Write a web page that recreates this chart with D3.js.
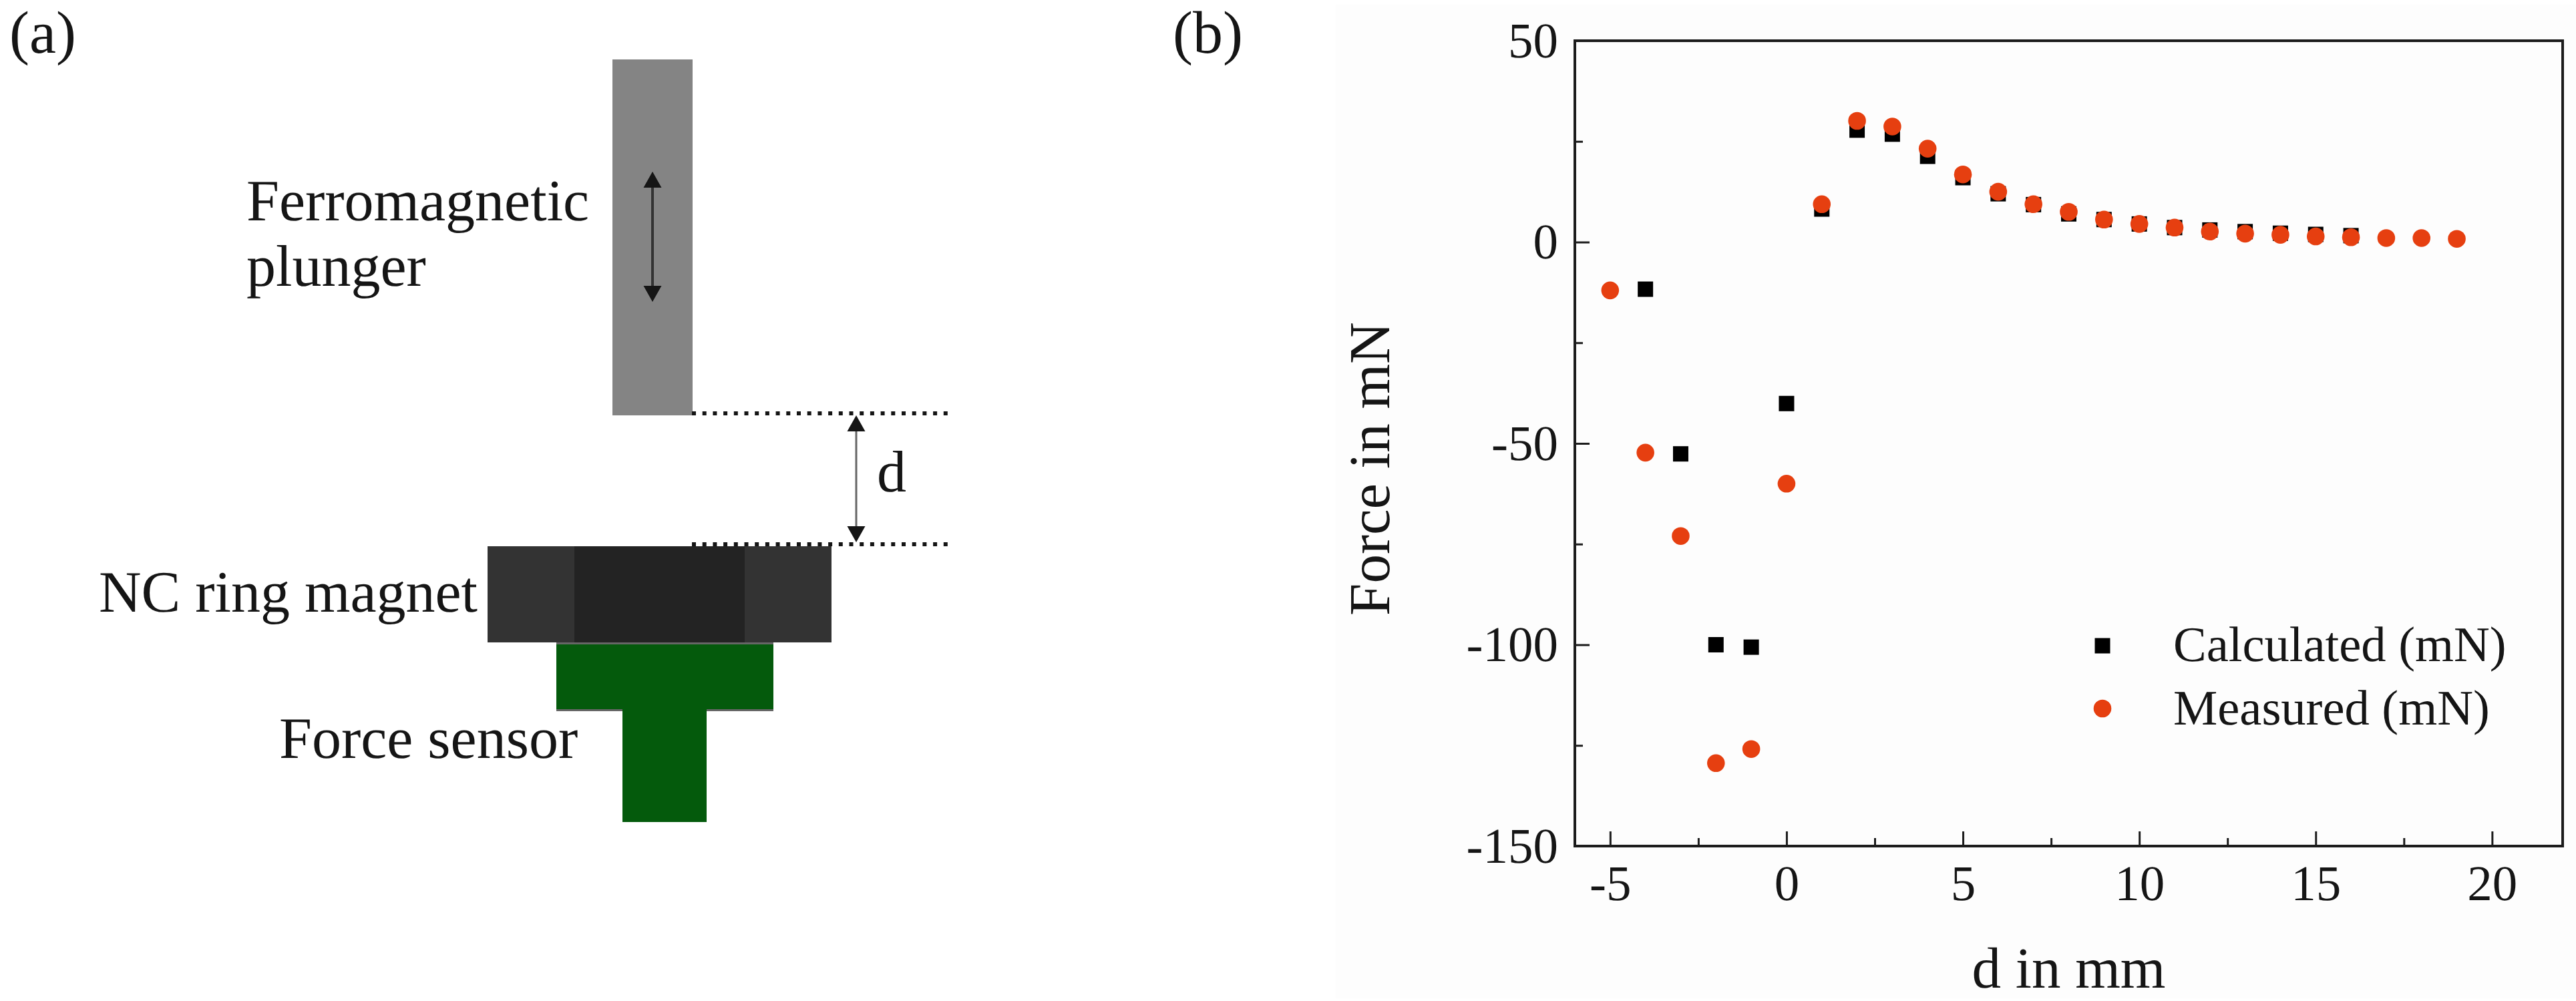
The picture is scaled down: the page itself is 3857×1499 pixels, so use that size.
<!DOCTYPE html>
<html>
<head>
<meta charset="utf-8">
<style>
  html, body { margin: 0; padding: 0; background: #fff; }
  svg { display: block; }
  text { font-family: "Liberation Serif", serif; fill: #151515; text-rendering: geometricPrecision; }
</style>
</head>
<body>
  <script src="https://d3js.org/d3.v7.min.js"></script>
  <div id="chart"></div>
  <script>
    // values (mN)
    const calcD = [-4,-3,-2,-1,0,1,2,3,4,5,6,7,8,9,10,11,12,13,14,15,16];
    const calcF = [-11.7,-52.6,-100,-100.6,-40.1,8.2,27.8,26.8,21.3,16,12,9.3,7,5.6,4.5,3.6,3,2.6,2.2,1.9,1.6];
    const measD = [-5,-4,-3,-2,-1,0,1,2,3,4,5,6,7,8,9,10,11,12,13,14,15,16,17,18,19];
    const measF = [-12,-52.3,-73,-129.4,-125.9,-60,9.4,30.1,28.7,23.2,16.8,12.5,9.4,7.5,5.6,4.5,3.6,2.6,2.1,1.8,1.4,1.2,1,1,0.8];
    const xMajor = [-5,0,5,10,15,20];
    const xMinor = [-2.5,2.5,7.5,12.5,17.5];
    const yMajor = [-150,-100,-50,0,50];
    const yMinor = [-125,-75,-25,25];
    const seriesNames = ["Calculated (mN)", "Measured (mN)"];

    const width = 3857, height = 1499;
    const red = "#e63f10";

    const svg = d3.select("#chart").append("svg")
      .attr("width", width)
      .attr("height", height);

    //faint off-white backdrop of panel b
    svg.append("rect").attr("x", 2000).attr("y", 7).attr("width", 1857).attr("height", 1488).style("fill", "#fdfdfd");

    //----- panel a: the schematic -----
    function label(txt, x, y, size) {
      return svg.append("text").attr("x", x).attr("y", y).style("font-size", size + "px").text(txt);
    }
    function box(x, y, w, h, fill) {
      svg.append("rect").attr("x", x).attr("y", y).attr("width", w).attr("height", h).style("fill", fill);
    }
    function doubleArrow(x, y1, y2, color, lineW) {
      svg.append("line").attr("x1", x).attr("x2", x).attr("y1", y1 + 20).attr("y2", y2 - 20)
        .style("stroke", color).style("stroke-width", lineW);
      const head = (tip, base) => `${x},${tip} ${x - 13.5},${base} ${x + 13.5},${base}`;
      svg.append("polygon").attr("points", head(y1, y1 + 24)).style("fill", "#151515");
      svg.append("polygon").attr("points", head(y2, y2 - 24)).style("fill", "#151515");
    }

    label("(a)", 14, 79, 90);
    label("(b)", 1756, 79, 90);

    box(917, 89, 120, 533, "#848484");
    doubleArrow(977, 257, 452, "#333", 4);

    //grey edges of the sensor sit under the green
    box(833, 961, 325, 104, "#666");
    box(833, 965, 325, 97, "#045a0c");
    box(932, 1062, 126, 169, "#045a0c");
    box(730, 818, 515, 144, "#333333");
    box(860, 818, 255, 144, "#232323");

    [619, 815].forEach(y => {
      svg.append("line").attr("x1", 1036).attr("x2", 1420).attr("y1", y).attr("y2", y)
        .style("stroke", "#151515").style("stroke-width", 6).style("stroke-dasharray", "6 9.7");
    });
    doubleArrow(1282, 622, 812, "#666", 3);

    label("Ferromagnetic", 369, 330, 88);
    label("plunger", 369, 428, 88);
    label("NC ring magnet", 148, 916, 88);
    label("Force sensor", 418, 1135, 88);
    label("d", 1313, 736, 88);

    //----- panel b: the scatter -----
    const plotL = 2358, plotR = 3837, plotT = 61, plotB = 1267;
    const xScale = d3.scaleLinear().domain([-6, 22]).range([plotL, plotR]);
    const yScale = d3.scaleLinear().domain([-150, 50]).range([plotB, plotT]);

    //frame
    svg.append("rect").attr("x", plotL).attr("y", plotT)
      .attr("width", plotR - plotL).attr("height", plotB - plotT)
      .style("fill", "none").style("stroke", "#1c1c1c").style("stroke-width", 4);

    //ticks point inwards, labels sit outside
    function styleAxis(g) {
      g.select(".domain").remove();
      g.selectAll("line").style("stroke", "#1c1c1c").style("stroke-width", 3);
      g.selectAll("text").style("font-size", "75px").style("font-family", '"Liberation Serif", serif').style("fill", "#151515");
    }
    svg.append("g").attr("transform", `translate(0,${plotB})`)
      .call(d3.axisBottom(xScale).tickValues(xMajor).tickSizeInner(-22).tickSizeOuter(0).tickPadding(28).tickFormat(d => String(d)))
      .call(styleAxis);
    svg.append("g").attr("transform", `translate(0,${plotB})`)
      .call(d3.axisBottom(xScale).tickValues(xMinor).tickSizeInner(-12).tickSizeOuter(0).tickFormat(""))
      .call(styleAxis);
    svg.append("g").attr("transform", `translate(${plotL},0)`)
      .call(d3.axisLeft(yScale).tickValues(yMajor).tickSizeInner(-22).tickSizeOuter(0).tickPadding(25).tickFormat(d => String(d)))
      .call(styleAxis);
    svg.append("g").attr("transform", `translate(${plotL},0)`)
      .call(d3.axisLeft(yScale).tickValues(yMinor).tickSizeInner(-12).tickSizeOuter(0).tickFormat(""))
      .call(styleAxis);

    //axis titles
    svg.append("text").attr("x", (plotL + plotR) / 2).attr("y", 1479)
      .attr("text-anchor", "middle").style("font-size", "87px").text("d in mm");
    svg.append("text").attr("transform", "translate(2080,702) rotate(-90)")
      .attr("text-anchor", "middle").style("font-size", "87px").text("Force in mN");

    //points
    const sq = 23, rad = 13.3;
    calcD.forEach((d, i) => {
      svg.append("rect")
        .attr("x", xScale(d) - sq / 2)
        .attr("y", yScale(calcF[i]) - sq / 2)
        .attr("width", sq)
        .attr("height", sq)
        .style("fill", "#000");
    });
    measD.forEach((d, i) => {
      svg.append("circle")
        .attr("cx", xScale(d))
        .attr("cy", yScale(measF[i]))
        .attr("r", rad)
        .style("fill", red);
    });

    //legend
    svg.append("rect").attr("x", 3148 - sq / 2).attr("y", 967 - sq / 2).attr("width", sq).attr("height", sq).style("fill", "#000");
    svg.append("circle").attr("cx", 3148).attr("cy", 1061).attr("r", rad).style("fill", red);
    label(seriesNames[0], 3254, 990, 74.5);
    label(seriesNames[1], 3254, 1085, 74.5);
  </script>
</body>
</html>
